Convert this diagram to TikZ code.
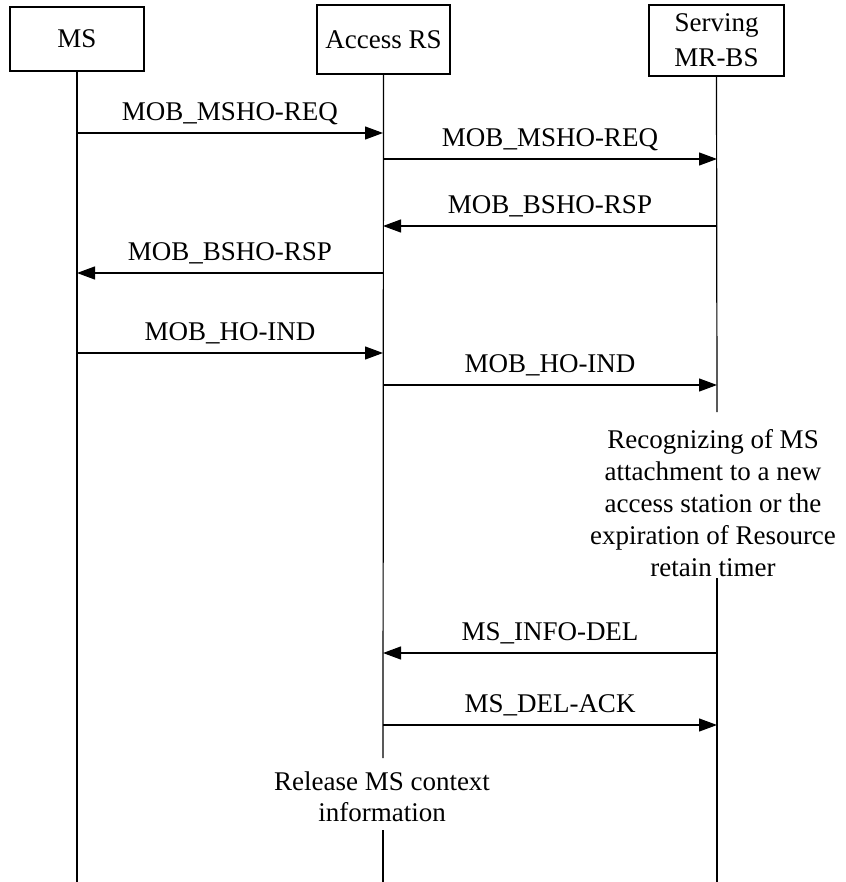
\documentclass[tikz,border=0pt]{standalone}
\usepackage{fontspec}
\setmainfont{Liberation Serif}
\usetikzlibrary{arrows.meta}
\begin{document}
\begin{tikzpicture}[x=1pt,y=-1pt,
  box/.style={draw, line width=1.2pt, inner sep=0pt, align=center, font=\fontsize{27}{35}\selectfont},
  life/.style={line width=1.2pt},
  msg/.style={line width=1.2pt, -{Triangle[length=18pt,width=13pt]}},
  lbl/.style={anchor=base, yshift=12.4pt, inner sep=0pt, font=\fontsize{27}{32}\selectfont},
  note/.style={align=center, inner sep=0pt, font=\fontsize{27}{32}\selectfont}]
\useasboundingbox[fill=white] (0,0) rectangle (845,882);

% participants
\node[box, minimum width=134pt, minimum height=64pt] (ms) at (77,39) {MS};
\node[box, minimum width=133pt, minimum height=69pt] (acc) at (383.5,39.5) {Access RS};
\node[box, minimum width=135pt, minimum height=71pt] (srv) at (716.5,40.5) {Serving\\MR-BS};

% lifeline coordinates
\coordinate (msend) at (77,882);
\coordinate (acc1) at (383,758);
\coordinate (acc2) at (383,830);
\coordinate (accend) at (383,882);
\coordinate (srv1) at (717,412);
\coordinate (srv2) at (717,578);
\coordinate (srvend) at (717,882);

\draw[life] (ms.south) -- (msend);
\draw[life] (acc.south) -- (acc1);
\draw[life] (acc2) -- (accend);
\draw[life] (srv.south) -- (srv1);
\draw[life] (srv2) -- (srvend);

% message end points
\coordinate (m1) at (77,133);  \coordinate (a1) at (383,133);
\coordinate (a2) at (383,159); \coordinate (s2) at (717,159);
\coordinate (s3) at (717,226); \coordinate (a3) at (383,226);
\coordinate (a4) at (383,273); \coordinate (m4) at (77,273);
\coordinate (m5) at (77,353);  \coordinate (a5) at (383,353);
\coordinate (a6) at (383,385); \coordinate (s6) at (717,385);
\coordinate (s7) at (717,653); \coordinate (a7) at (383,653);
\coordinate (a8) at (383,725); \coordinate (s8) at (717,725);

\draw[msg] (m1) -- node[lbl] {MOB\_MSHO-REQ} (a1);
\draw[msg] (a2) -- node[lbl] {MOB\_MSHO-REQ} (s2);
\draw[msg] (s3) -- node[lbl] {MOB\_BSHO-RSP} (a3);
\draw[msg] (a4) -- node[lbl] {MOB\_BSHO-RSP} (m4);
\draw[msg] (m5) -- node[lbl] {MOB\_HO-IND} (a5);
\draw[msg] (a6) -- node[lbl] {MOB\_HO-IND} (s6);
\draw[msg] (s7) -- node[lbl] {MS\_INFO-DEL} (a7);
\draw[msg] (a8) -- node[lbl] {MS\_DEL-ACK} (s8);

% notes
\node[note] (recog) at (713,503) {Recognizing of MS\\attachment to a new\\access station or the\\expiration of Resource\\retain timer};
\node[note, font=\fontsize{27}{31}\selectfont] (release) at (382,797) {Release MS context\\information};
\end{tikzpicture}
\end{document}
